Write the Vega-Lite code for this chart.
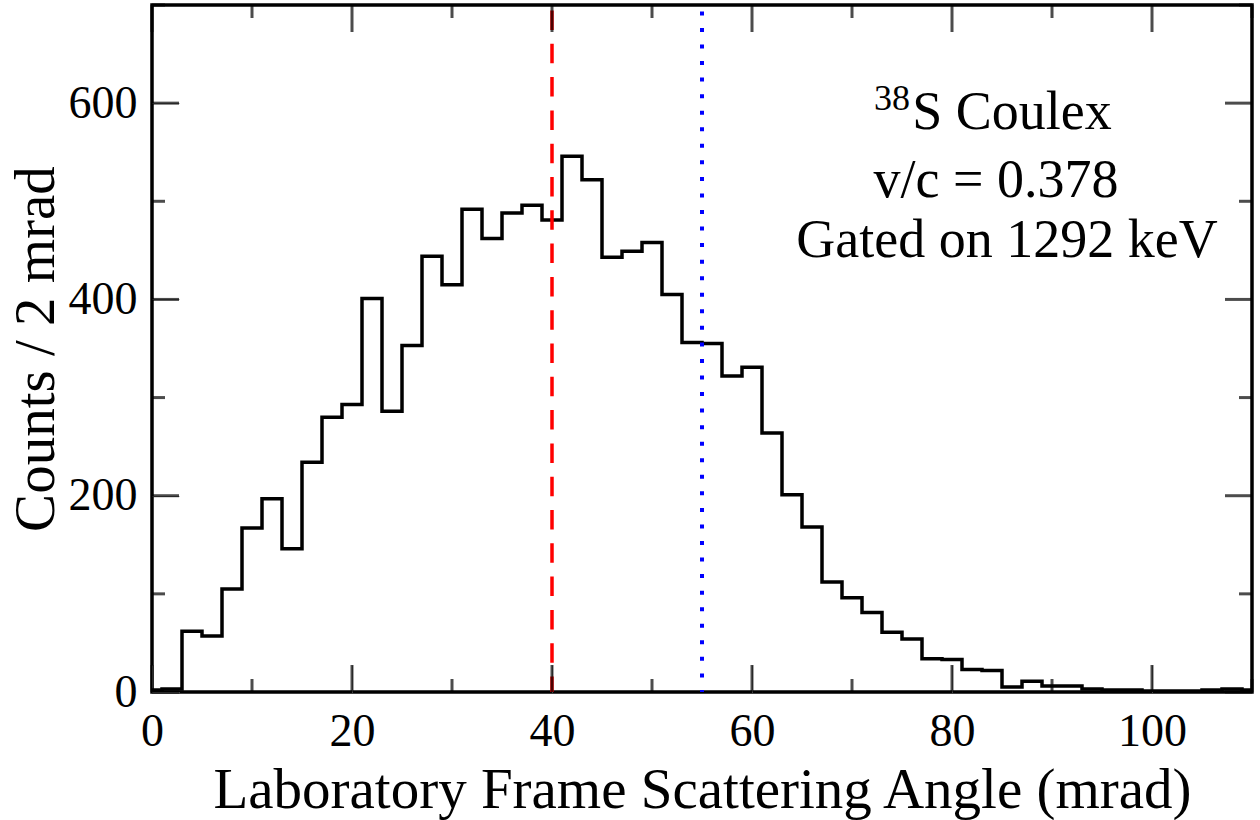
{
  "$schema": "https://vega.github.io/schema/vega-lite/v6.json",
  "width": 1100,
  "height": 687,
  "autosize": "none",
  "padding": {"left": 152, "top": 5, "right": 8, "bottom": 128},
  "background": "white",
  "config": {
    "font": "Liberation Serif",
    "view": {"stroke": "black", "strokeWidth": 3.5},
    "axis": {
      "domain": false,
      "grid": false,
      "labelColor": "black",
      "labelFont": "Liberation Serif",
      "labelFontSize": 46,
      "labelOverlap": false,
      "labelBound": false,
      "labelFlush": false,
      "titleFont": "Liberation Serif",
      "titleFontSize": 57,
      "titleFontWeight": "normal",
      "titleColor": "black"
    }
  },
  "resolve": {"axis": {"x": "independent", "y": "independent"}},
  "layer": [
    {
      "data": {
        "values": [
          {"lo": -1, "count": 2}, {"lo": 1, "count": 3}, {"lo": 3, "count": 62}, {"lo": 5, "count": 57},
          {"lo": 7, "count": 105}, {"lo": 9, "count": 167}, {"lo": 11, "count": 197}, {"lo": 13, "count": 146},
          {"lo": 15, "count": 234}, {"lo": 17, "count": 280}, {"lo": 19, "count": 293}, {"lo": 21, "count": 401},
          {"lo": 23, "count": 286}, {"lo": 25, "count": 353}, {"lo": 27, "count": 444}, {"lo": 29, "count": 415},
          {"lo": 31, "count": 492}, {"lo": 33, "count": 462}, {"lo": 35, "count": 488}, {"lo": 37, "count": 496},
          {"lo": 39, "count": 481}, {"lo": 41, "count": 546}, {"lo": 43, "count": 522}, {"lo": 45, "count": 443},
          {"lo": 47, "count": 449}, {"lo": 49, "count": 458}, {"lo": 51, "count": 405}, {"lo": 53, "count": 356},
          {"lo": 55, "count": 355}, {"lo": 57, "count": 322}, {"lo": 59, "count": 331}, {"lo": 61, "count": 264},
          {"lo": 63, "count": 201}, {"lo": 65, "count": 168}, {"lo": 67, "count": 112}, {"lo": 69, "count": 96},
          {"lo": 71, "count": 81}, {"lo": 73, "count": 61}, {"lo": 75, "count": 54}, {"lo": 77, "count": 34},
          {"lo": 79, "count": 33}, {"lo": 81, "count": 23}, {"lo": 83, "count": 22}, {"lo": 85, "count": 5},
          {"lo": 87, "count": 11}, {"lo": 89, "count": 6}, {"lo": 91, "count": 6}, {"lo": 93, "count": 3},
          {"lo": 95, "count": 2}, {"lo": 97, "count": 2}, {"lo": 99, "count": 1}, {"lo": 101, "count": 1},
          {"lo": 103, "count": 1}, {"lo": 105, "count": 2}, {"lo": 107, "count": 3}, {"lo": 109, "count": 2},
          {"lo": 111, "count": 2}
        ]
      },
      "mark": {"type": "line", "interpolate": "step-after", "color": "black", "strokeWidth": 3.5, "clip": true},
      "encoding": {
        "x": {
          "field": "lo", "type": "quantitative",
          "scale": {"domain": [0, 110], "nice": false, "zero": false},
          "axis": {
            "orient": "bottom",
            "offset": -27,
            "values": [0, 20, 40, 60, 80, 100],
            "tickSize": 27,
            "labelPadding": 17,
            "title": "Laboratory Frame Scattering Angle (mrad)",
            "titleBaseline": "alphabetic",
            "titleY": 142
          }
        },
        "y": {
          "field": "count", "type": "quantitative",
          "scale": {"domain": [0, 700], "nice": false},
          "axis": {
            "orient": "left",
            "offset": -27,
            "values": [0, 200, 400, 600],
            "tickSize": 27,
            "labelPadding": 15,
            "title": "Counts / 2 mrad",
            "titleBaseline": "alphabetic",
            "titleX": -126,
            "titleY": 343.5
          }
        }
      }
    },
    {
      "data": {"values": [{"angle": 40, "lo": 0, "hi": 700}]},
      "mark": {"type": "rule", "color": "#ff0000", "strokeWidth": 3.5, "strokeDash": [19.5, 13.8], "strokeDashOffset": 27.8},
      "encoding": {
        "x": {"field": "angle", "type": "quantitative", "axis": null},
        "y": {"field": "hi", "type": "quantitative", "axis": null},
        "y2": {"field": "lo"}
      }
    },
    {
      "data": {"values": [{"angle": 55, "lo": 0, "hi": 700}]},
      "mark": {"type": "rule", "color": "#0000ff", "strokeWidth": 4, "strokeDash": [4, 12.55], "strokeDashOffset": 10.15},
      "encoding": {
        "x": {"field": "angle", "type": "quantitative", "axis": null},
        "y": {"field": "hi", "type": "quantitative", "axis": null},
        "y2": {"field": "lo"}
      }
    },
    {
      "data": {"values": [{"v": 0}, {"v": 20}, {"v": 40}, {"v": 60}, {"v": 80}, {"v": 100}]},
      "layer": [
        {
          "mark": {"type": "tick", "orient": "vertical", "color": "#000000", "thickness": 3, "size": 27, "yOffset": -13.5},
          "encoding": {
            "x": {"field": "v", "type": "quantitative", "axis": null},
            "y": {"datum": 0, "type": "quantitative", "axis": null}
          }
        },
        {
          "mark": {"type": "tick", "orient": "vertical", "color": "#000000", "thickness": 3, "size": 27, "yOffset": 13.5},
          "encoding": {
            "x": {"field": "v", "type": "quantitative", "axis": null},
            "y": {"datum": 700, "type": "quantitative", "axis": null}
          }
        }
      ]
    },
    {
      "data": {"values": [{"v": 10}, {"v": 30}, {"v": 50}, {"v": 70}, {"v": 90}, {"v": 110}]},
      "layer": [
        {
          "mark": {"type": "tick", "orient": "vertical", "color": "#000000", "thickness": 3, "size": 13, "yOffset": -6.5},
          "encoding": {
            "x": {"field": "v", "type": "quantitative", "axis": null},
            "y": {"datum": 0, "type": "quantitative", "axis": null}
          }
        },
        {
          "mark": {"type": "tick", "orient": "vertical", "color": "#000000", "thickness": 3, "size": 13, "yOffset": 6.5},
          "encoding": {
            "x": {"field": "v", "type": "quantitative", "axis": null},
            "y": {"datum": 700, "type": "quantitative", "axis": null}
          }
        }
      ]
    },
    {
      "data": {"values": [{"v": 0}, {"v": 200}, {"v": 400}, {"v": 600}]},
      "layer": [
        {
          "mark": {"type": "tick", "orient": "horizontal", "color": "#000000", "thickness": 3, "size": 27, "xOffset": 13.5},
          "encoding": {
            "y": {"field": "v", "type": "quantitative", "axis": null},
            "x": {"datum": 0, "type": "quantitative", "axis": null}
          }
        },
        {
          "mark": {"type": "tick", "orient": "horizontal", "color": "#000000", "thickness": 3, "size": 27, "xOffset": -13.5},
          "encoding": {
            "y": {"field": "v", "type": "quantitative", "axis": null},
            "x": {"datum": 110, "type": "quantitative", "axis": null}
          }
        }
      ]
    },
    {
      "data": {"values": [{"v": 100}, {"v": 300}, {"v": 500}, {"v": 700}]},
      "layer": [
        {
          "mark": {"type": "tick", "orient": "horizontal", "color": "#000000", "thickness": 3, "size": 13, "xOffset": 6.5},
          "encoding": {
            "y": {"field": "v", "type": "quantitative", "axis": null},
            "x": {"datum": 0, "type": "quantitative", "axis": null}
          }
        },
        {
          "mark": {"type": "tick", "orient": "horizontal", "color": "#000000", "thickness": 3, "size": 13, "xOffset": -6.5},
          "encoding": {
            "y": {"field": "v", "type": "quantitative", "axis": null},
            "x": {"datum": 110, "type": "quantitative", "axis": null}
          }
        }
      ]
    },
    {
      "data": {
        "values": [
          {"tx": 86.0, "ty": 573.3, "text": "S Coulex"},
          {"tx": 84.4, "ty": 504.7, "text": "v/c = 0.378"},
          {"tx": 85.5, "ty": 443.5, "text": "Gated on 1292 keV"}
        ]
      },
      "mark": {"type": "text", "font": "Liberation Serif", "fontSize": 54, "align": "center", "baseline": "alphabetic", "color": "black"},
      "encoding": {
        "x": {"field": "tx", "type": "quantitative", "axis": null},
        "y": {"field": "ty", "type": "quantitative", "axis": null},
        "text": {"field": "text"}
      }
    },
    {
      "data": {"values": [{"tx": 75.8, "ty": 593.0, "text": "38"}]},
      "mark": {"type": "text", "font": "Liberation Serif", "fontSize": 36, "align": "right", "baseline": "alphabetic", "color": "black"},
      "encoding": {
        "x": {"field": "tx", "type": "quantitative", "axis": null},
        "y": {"field": "ty", "type": "quantitative", "axis": null},
        "text": {"field": "text"}
      }
    }
  ]
}
